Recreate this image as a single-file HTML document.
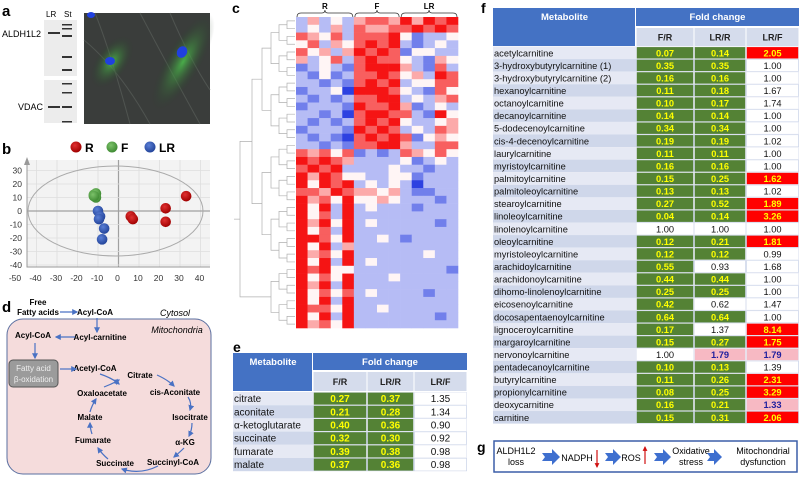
<!DOCTYPE html>
<html><head><meta charset="utf-8">
<style>
html,body{margin:0;padding:0;background:#fff;}
svg{display:block;font-family:"Liberation Sans",sans-serif;}
</style></head>
<body>
<svg id="fig" width="799" height="477" viewBox="0 0 799 477" xmlns="http://www.w3.org/2000/svg">
<defs>
<marker id="ah" viewBox="0 0 10 10" refX="8" refY="5" markerWidth="5" markerHeight="5" orient="auto"><path d="M0,0 L10,5 L0,10 z" fill="#4a72c4"/></marker>
<marker id="ahr" viewBox="0 0 10 10" refX="8" refY="5" markerWidth="4" markerHeight="4" orient="auto"><path d="M0,0 L10,5 L0,10 z" fill="#d01010"/></marker>
<radialGradient id="gR" cx="40%" cy="35%" r="65%"><stop offset="0" stop-color="#e03030"/><stop offset="1" stop-color="#a00000"/></radialGradient>
<radialGradient id="gF" cx="40%" cy="35%" r="65%"><stop offset="0" stop-color="#7cc26a"/><stop offset="1" stop-color="#3f8a33"/></radialGradient>
<radialGradient id="gL" cx="40%" cy="35%" r="65%"><stop offset="0" stop-color="#5a7fd6"/><stop offset="1" stop-color="#23449a"/></radialGradient>
<radialGradient id="cellG" cx="50%" cy="50%" r="50%"><stop offset="0" stop-color="#4cc04c" stop-opacity="0.85"/><stop offset="1" stop-color="#2a3a2a" stop-opacity="0"/></radialGradient>
</defs>

<g>
<text x="2" y="16" font-size="15" font-weight="bold">a</text>
<text x="46" y="17" font-size="8">LR</text>
<text x="64" y="17" font-size="8">St</text>
<rect x="44" y="20" width="33" height="56" fill="#ececec"/>
<rect x="44" y="80" width="33" height="43" fill="#ececec"/>
<text x="2" y="37" font-size="9">ALDH1L2</text>
<text x="18" y="110" font-size="9">VDAC</text>
<g fill="#333">
<rect x="48" y="32" width="12" height="2"/><rect x="48" y="106" width="12" height="2"/>
<rect x="62" y="24" width="10" height="1.5"/><rect x="62" y="28" width="10" height="1.5"/><rect x="62" y="35" width="10" height="2"/>
<rect x="62" y="56" width="10" height="2"/><rect x="62" y="69" width="10" height="2"/>
<rect x="62" y="83" width="10" height="1.5"/><rect x="62" y="92" width="10" height="1.5"/><rect x="62" y="106" width="10" height="2"/><rect x="62" y="121" width="10" height="1.5"/>
</g>
<rect x="84" y="13" width="126" height="111" fill="#3a3d3b"/>
<g stroke="#555a56" stroke-width="1" fill="none" opacity="0.8">
<path d="M84,40 Q120,70 150,124"/><path d="M140,13 Q170,70 200,124"/><path d="M95,13 Q110,50 130,124"/><path d="M170,13 Q190,60 210,90"/>
</g>
<ellipse cx="112" cy="62" rx="16" ry="30" fill="url(#cellG)" transform="rotate(35 112 62)"/>
<ellipse cx="183" cy="62" rx="18" ry="55" fill="url(#cellG)" transform="rotate(30 183 62)"/>
<ellipse cx="110" cy="61" rx="5" ry="4" fill="#2040e0"/>
<ellipse cx="182" cy="52" rx="5" ry="6" fill="#2040e0" transform="rotate(30 182 52)"/>
<ellipse cx="91" cy="15" rx="4" ry="3" fill="#2040e0"/>
</g>

<g id="pca">
<text x="2" y="154" font-size="15" font-weight="bold">b</text>
</g>

<g id="heat">
<text x="232" y="13" font-size="14" font-weight="bold">c</text>
</g>

<g font-size="8" font-weight="bold">
<text x="2" y="312" font-size="15" font-weight="bold">d</text>
<rect x="7" y="319" width="204" height="155" rx="16" fill="#f5dcdc" stroke="#5a6fa0" stroke-width="1"/>
<text x="38" y="305" text-anchor="middle">Free</text>
<text x="38" y="315" text-anchor="middle">Fatty acids</text>
<text x="95" y="315" text-anchor="middle">Acyl-CoA</text>
<text x="175" y="316" text-anchor="middle" font-style="italic" font-weight="normal" font-size="9">Cytosol</text>
<text x="177" y="333" text-anchor="middle" font-style="italic" font-weight="normal" font-size="9">Mitochondria</text>
<text x="100" y="340" text-anchor="middle">Acyl-carnitine</text>
<text x="33" y="338" text-anchor="middle">Acyl-CoA</text>
<rect x="9" y="360" width="49" height="27" rx="4" fill="#9b9b9b" stroke="#555" stroke-width="1"/>
<text x="33.5" y="371" text-anchor="middle" fill="#eee" font-weight="normal">Fatty acid</text>
<text x="33.5" y="382" text-anchor="middle" fill="#eee" font-weight="normal">β-oxidation</text>
<text x="95" y="371" text-anchor="middle">Acetyl-CoA</text>
<text x="140" y="378" text-anchor="middle">Citrate</text>
<text x="102" y="396" text-anchor="middle">Oxaloacetate</text>
<text x="175" y="395" text-anchor="middle">cis-Aconitate</text>
<text x="190" y="420" text-anchor="middle">Isocitrate</text>
<text x="90" y="420" text-anchor="middle">Malate</text>
<text x="185" y="445" text-anchor="middle">α-KG</text>
<text x="93" y="443" text-anchor="middle">Fumarate</text>
<text x="173" y="465" text-anchor="middle">Succinyl-CoA</text>
<text x="115" y="466" text-anchor="middle">Succinate</text>
<g stroke="#4a72c4" stroke-width="1.2" fill="none" marker-end="url(#ah)">
<line x1="60" y1="312" x2="77" y2="312"/>
<line x1="97" y1="318" x2="97" y2="332"/>
<line x1="75" y1="337" x2="56" y2="337"/>
<line x1="35" y1="343" x2="35" y2="358"/>
<line x1="60" y1="369" x2="76" y2="369"/>
<path d="M100,374 Q112,378 119,384"/>
<path d="M104,387 Q112,384 119,380"/>
<path d="M157,375 Q168,380 174,386"/>
<path d="M188,397 Q192,403 190,410"/>
<path d="M192,423 Q192,430 189,436"/>
<path d="M184,448 Q180,452 174,457"/>
<path d="M158,466 Q140,475 122,469"/>
<path d="M108,459 Q102,454 98,448"/>
<path d="M92,434 Q90,428 90,423"/>
<path d="M90,412 Q92,405 96,399"/>
</g>
</g>

<g id="tabE">
<text x="233" y="352" font-size="14" font-weight="bold">e</text>
</g>

<g id="tabF">
<text x="481" y="13" font-size="14" font-weight="bold">f</text>
</g>

<g font-size="9">
<text x="477" y="452" font-size="14" font-weight="bold">g</text>
<rect x="494" y="441" width="303" height="31" fill="#fff" stroke="#3b5ea8" stroke-width="1.5"/>
<text x="516" y="454" text-anchor="middle">ALDH1L2</text>
<text x="516" y="465" text-anchor="middle">loss</text>
<text x="577" y="461" text-anchor="middle">NADPH</text>
<text x="631" y="461" text-anchor="middle">ROS</text>
<text x="691" y="454" text-anchor="middle">Oxidative</text>
<text x="691" y="465" text-anchor="middle">stress</text>
<text x="763" y="454" text-anchor="middle">Mitochondrial</text>
<text x="763" y="465" text-anchor="middle">dysfunction</text>
<g fill="#3e6fcf">
<path d="M542,453 L552,453 L552,449 L560,457 L552,465 L552,461 L542,461 L545,457 z"/>
<path d="M605,453 L613,453 L613,449 L621,457 L613,465 L613,461 L605,461 L608,457 z"/>
<path d="M654,453 L663,453 L663,449 L671,457 L663,465 L663,461 L654,461 L657,457 z"/>
<path d="M707,453 L714,453 L714,449 L722,457 L714,465 L714,461 L707,461 L710,457 z"/>
</g>
<line x1="597" y1="450" x2="597" y2="467" stroke="#d01010" stroke-width="1.2" marker-end="url(#ahr)"/>
<line x1="645" y1="464" x2="645" y2="447" stroke="#d01010" stroke-width="1.2" marker-end="url(#ahr)"/>
</g>
</svg>

<script>
// ---- PCA data (panel b) ----
const pcaXTicks = [-50,-40,-30,-20,-10,0,10,20,30,40];
const pcaYTicks = [30,20,10,0,-10,-20,-30,-40];
const rX = [33,23,23,6,7];
const rY = [11,2,-8,-4,-6];
const fX = [-12,-11,-11,-12];
const fY = [12,13,10,11];
const lrX = [-10,-9,-9.5,-7,-8];
const lrY = [0,-4,-6,-13,-21];

// ---- Heatmap data (panel c): values 0..6, 3 = neutral; groups R(5) F(4) LR(5) ----
const heatGroups = ["R","F","LR"];
const heatGroupSizes = [5,4,5];
const heatRows = [
"24232455464656","23242544556565","54352555631223","35243565621232","53424656513322",
"42352565532143","12321566642152","21312556534265","22121565623355","12230666532153",
"21212556623245","12221655641232","22120566552163","21212565632234","12221656523254",
"21210565651343","22121556642255","54535121254353","65654222231232","56562222322122",
"64653322331222","63656232320222","55465443421122","64536334322212","63626232221222",
"63526222222222","64636232222212","63526222222222","66536223212222","63624222222222",
"64536222222322","63626232222222","65633222222221","63536222322222","64626222222222",
"63535232222122","63626222222222","65536223222222","63626222222212","64536222222222"];

// ---- Table e data ----
const eNames = ["citrate","aconitate","α-ketoglutarate","succinate","fumarate","malate"];
const eFR = [0.27,0.21,0.40,0.32,0.39,0.37];
const eLRR = [0.37,0.28,0.36,0.30,0.38,0.36];
const eLRF = [1.35,1.34,0.90,0.92,0.98,0.98];
const eFRSig = "gggggg";
const eLRRSig = "gggggg";
const eLRFSig = "wwwwww";

// ---- Table f data ----
const fNames = ["acetylcarnitine","3-hydroxybutyrylcarnitine (1)","3-hydroxybutyrylcarnitine (2)","hexanoylcarnitine","octanoylcarnitine","decanoylcarnitine","5-dodecenoylcarnitine","cis-4-decenoylcarnitine","laurylcarnitine","myristoylcarnitine","palmitoylcarnitine","palmitoleoylcarnitine","stearoylcarnitine","linoleoylcarnitine","linolenoylcarnitine","oleoylcarnitine","myristoleoylcarnitine","arachidoylcarnitine","arachidonoylcarnitine","dihomo-linolenoylcarnitine","eicosenoylcarnitine","docosapentaenoylcarnitine","lignoceroylcarnitine","margaroylcarnitine","nervonoylcarnitine","pentadecanoylcarnitine","butyrylcarnitine","propionylcarnitine","deoxycarnitine","carnitine"];
const fFR = [0.07,0.35,0.16,0.11,0.10,0.14,0.34,0.19,0.11,0.16,0.15,0.13,0.27,0.04,1.00,0.12,0.12,0.55,0.44,0.25,0.42,0.64,0.17,0.15,1.00,0.10,0.11,0.08,0.16,0.15];
const fLRR = [0.14,0.35,0.16,0.18,0.17,0.14,0.34,0.19,0.11,0.16,0.25,0.13,0.52,0.14,1.00,0.21,0.12,0.93,0.44,0.25,0.62,0.64,1.37,0.27,1.79,0.13,0.26,0.25,0.21,0.31];
const fLRF = [2.05,1.00,1.00,1.67,1.74,1.00,1.00,1.02,1.00,1.00,1.62,1.02,1.89,3.26,1.00,1.81,0.99,1.68,1.00,1.00,1.47,1.00,8.14,1.75,1.79,1.39,2.31,3.29,1.33,2.06];
const fFRSig  = "gggggggggggggg" + "w" + "ggggggggg" + "w" + "ggggg";
const fLRRSig = "gggggggggggggg" + "w" + "gg" + "w" + "gg" + "w" + "g" + "w" + "g" + "p" + "ggggg";
const fLRFSig = "r" + "wwwwwwwww" + "r" + "w" + "rr" + "w" + "r" + "wwwwww" + "rr" + "p" + "w" + "rr" + "p" + "r";

const NS = "http://www.w3.org/2000/svg";
function mk(tag, attrs, parent){
  const el = document.createElementNS(NS, tag);
  for (const k in attrs) el.setAttribute(k, attrs[k]);
  parent.appendChild(el);
  return el;
}

// ---------- Panel b ----------
(function(){
  const g = document.getElementById('pca');
  const xS = v => 118.5 + v*2.05;
  const yS = v => 211 - v*1.35;
  const bg = mk('rect',{x:27,y:160,width:183,height:107,fill:'#f3f3f3'},g);
  
  
  pcaXTicks.forEach(t=>{
    if (t>-50) { const l = mk('line',{x1:xS(t),x2:xS(t),y1:160,y2:267,stroke:t===0?'#a0a0a0':'#dedede','stroke-width':t===0?1.2:0.8},g);
      
       }
    const tx = mk('text',{x:xS(t)-1,y:281,'font-size':8.5,'text-anchor':'middle',fill:'#333'},g);
    tx.textContent = t;
    
    
  });
  pcaYTicks.forEach(t=>{
    const l = mk('line',{x1:27,x2:210,y1:yS(t),y2:yS(t),stroke:t===0?'#a0a0a0':'#dedede','stroke-width':t===0?1.2:0.8},g);
    
    
    const tx = mk('text',{x:22,y:yS(t)+3,'font-size':8.5,'text-anchor':'end',fill:'#333'},g);
    tx.textContent = t;
    
    
  });
  const ax = mk('path',{d:'M27,160 L27,267 L210,267',stroke:'#999',fill:'none','stroke-width':1},g);
  
  
  const arr = mk('path',{d:'M24,165 L27,157 L30,165 z',fill:'#999'},g);
  
  
  const el = mk('ellipse',{cx:115.5,cy:211,rx:87.5,ry:45,fill:'none',stroke:'#aaa','stroke-width':1},g);
  
  
  const series = [[rX,rY,'url(#gR)','R'],[fX,fY,'url(#gF)','F'],[lrX,lrY,'url(#gL)','LR']];
  series.forEach(s=>{
    s[0].forEach((xv,i)=>{
      const c = mk('circle',{cx:xS(xv),cy:yS(s[1][i]),r:5.3,fill:s[2]},g);
      
      
    });
  });
  const legX = [76,112,150];
  series.forEach((s,i)=>{
    const c = mk('circle',{cx:legX[i],cy:147,r:5.5,fill:s[2]},g);
    
    
    const t = mk('text',{x:legX[i]+9,y:152,'font-size':12,'font-weight':'bold'},g);
    t.textContent = s[3];
    
    
  });
})();

// ---------- Panel c ----------
(function(){
  const g = document.getElementById('heat');
  const x0 = 296, x1 = 458, y0 = 17, y1 = 328;
  const nCols = heatRows[0].length, nRows = heatRows.length;
  const cw = (x1-x0)/nCols, rh = (y1-y0)/nRows;
  function col(v){
    const t = (v-3)/3;
    if (t>=0){ const w = 1-t; return `rgb(${Math.round(255-10*t)},${Math.round(245*w+20*t)},${Math.round(245*w+20*t)})`; }
    const a = -t; return `rgb(${Math.round(250-(250-45)*a)},${Math.round(250-(250-65)*a)},${Math.round(255-(255-225)*a)})`;
  }
  heatRows.forEach((row,ri)=>{
    for (let ci=0; ci<nCols; ci++){
      const v = +row[ci];
      const r = mk('rect',{x:x0+ci*cw,y:y0+ri*rh,width:cw+0.3,height:rh+0.3,fill:col(v)},g);
      
      
    }
  });
  let start = 0;
  heatGroups.forEach((name,i)=>{
    const xa = x0+start*cw+1, xb = x0+(start+heatGroupSizes[i])*cw-1, xm=(xa+xb)/2;
    const p = mk('path',{d:`M${xa},17 Q${xa},13 ${xa+4},13 L${xm-3},13 Q${xm},13 ${xm},10 Q${xm},13 ${xm+3},13 L${xb-4},13 Q${xb},13 ${xb},17`,stroke:'#333',fill:'none','stroke-width':0.8},g);
    
    
    const t = mk('text',{x:xm,y:9,'font-size':8,'font-weight':'bold','text-anchor':'middle'},g);
    t.textContent = name;
    
    
    start += heatGroupSizes[i];
  });
  let nodes = heatRows.map((_,i)=>({y:y0+(i+0.5)*rh, x:295}));
  let lvl = 0;
  const dg = mk('g',{stroke:'#b0b0b0','stroke-width':0.7,fill:'none'},g);
  
  
  const xs = [287,279,271,262,252,240];
  while (nodes.length>1){
    const nx = xs[Math.min(lvl,xs.length-1)];
    const next = [];
    for (let i=0;i<nodes.length;i+=2){
      if (i+1>=nodes.length){ next.push(nodes[i]); continue; }
      const a=nodes[i], b=nodes[i+1];
      mk('path',{d:`M${a.x},${a.y} L${nx},${a.y} L${nx},${b.y} L${b.x},${b.y}`},dg);
      next.push({x:nx,y:(a.y+b.y)/2});
    }
    nodes = next; lvl++;
  }
  mk('line',{x1:nodes[0].x,y1:nodes[0].y,x2:234,y2:nodes[0].y},dg);
})();

// ---------- Table helper ----------
function drawTable(gid, cfg){
  const g = document.getElementById(gid);
  const {x0,mx,cols,top,h1,h2,rowTop,rh,names,vals,sigs,fs} = cfg;
  const blue = '#4472c4';
  let r = mk('rect',{x:x0,y:top,width:mx-x0-1,height:h1+h2+2,fill:blue},g);
  
  
  let t = mk('text',{x:(x0+mx)/2,y:top+12,'font-size':9.5,'font-weight':'bold',fill:'#fff','text-anchor':'middle'},g);
  t.textContent = 'Metabolite';
  
  
  const right = cols[cols.length-1][1];
  r = mk('rect',{x:mx,y:top,width:right-mx,height:h1,fill:blue},g);
  
  
  t = mk('text',{x:(mx+right)/2,y:top+12,'font-size':9.5,'font-weight':'bold',fill:'#fff','text-anchor':'middle'},g);
  t.textContent = 'Fold change';
  
  
  const subs = ['F/R','LR/R','LR/F'];
  cols.forEach((c,i)=>{
    r = mk('rect',{x:c[0]+0.5,y:top+h1+2,width:c[1]-c[0]-1,height:h2,fill:'#d5dcec'},g);
    
    
    t = mk('text',{x:(c[0]+c[1])/2,y:top+h1+2+h2/2+3.5,'font-size':9,'font-weight':'bold',fill:'#222','text-anchor':'middle'},g);
    t.textContent = subs[i];
    
    
  });
  names.forEach((n,ri)=>{
    const y = rowTop + ri*rh;
    r = mk('rect',{x:x0,y:y,width:right-x0,height:rh,fill:ri%2?'#cfd7ea':'#e6e9f4'},g);
    
    
    t = mk('text',{x:x0+1,y:y+rh/2+3.5,'font-size':fs,fill:'#111'},g);
    t.textContent = n;
    
    
    cols.forEach((c,ci)=>{
      const s = sigs[ci][ri];
      const v = vals[ci][ri];
      let fill = '#ffffff', tc = '#111', fw = 'normal';
      if (s==='g'){fill='#548235'; tc='#ffff00'; fw='bold';}
      else if (s==='r'){fill='#ff0000'; tc='#ffff00'; fw='bold';}
      else if (s==='p'){fill='#f7b9c3'; tc='#1f1f9e'; fw='bold';}
      const cr = mk('rect',{x:c[0]+0.8,y:y+0.6,width:c[1]-c[0]-1.6,height:rh-1.2,fill:fill},g);
      
      
      const ct = mk('text',{x:(c[0]+c[1])/2,y:y+rh/2+3.5,'font-size':fs,'font-weight':fw,fill:tc,'text-anchor':'middle'},g);
      ct.textContent = v.toFixed(2);
      
      
    });
  });
}

drawTable('tabE',{x0:233,mx:313,cols:[[313,367],[367,414],[414,467]],top:353,h1:17,h2:19,rowTop:392,rh:13.2,
  names:eNames,vals:[eFR,eLRR,eLRF],sigs:[eFRSig,eLRRSig,eLRFSig],fs:10});
drawTable('tabF',{x0:493,mx:636,cols:[[636,694],[694,746],[746,799]],top:8,h1:18,h2:18,rowTop:46.5,rh:12.57,
  names:fNames,vals:[fFR,fLRR,fLRF],sigs:[fFRSig,fLRRSig,fLRFSig],fs:9.3});
</script>
</body></html>
